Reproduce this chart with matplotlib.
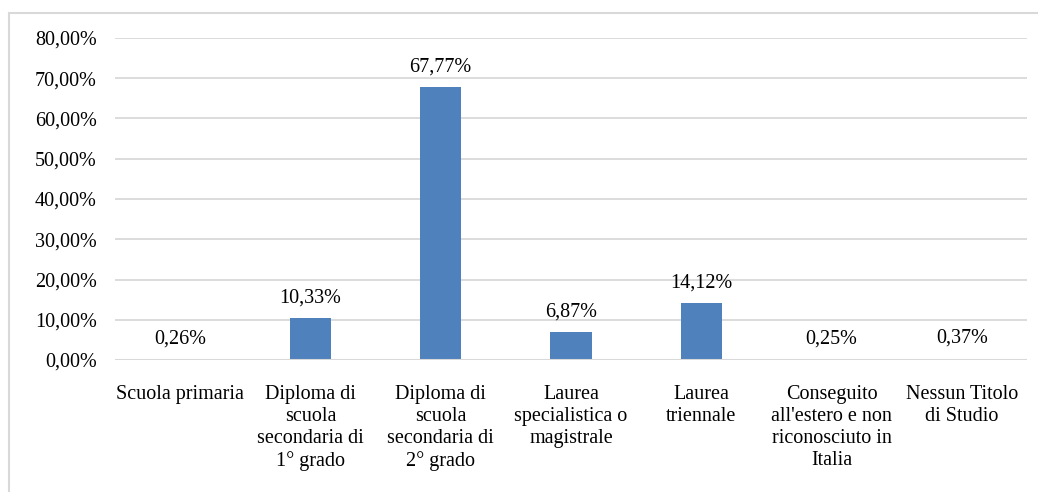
import matplotlib
matplotlib.use("Agg")
import matplotlib.pyplot as plt
from matplotlib.patches import Rectangle
from matplotlib.ticker import FuncFormatter

categories = ["Scuola primaria",
              "Diploma di\nscuola\nsecondaria di\n1° grado",
              "Diploma di\nscuola\nsecondaria di\n2° grado",
              "Laurea\nspecialistica o\nmagistrale",
              "Laurea\ntriennale",
              "Conseguito\nall'estero e non\nriconosciuto in\nItalia",
              "Nessun Titolo\ndi Studio"]
values = [0.26, 10.33, 67.77, 6.87, 14.12, 0.25, 0.37]
value_labels = ["0,26%", "10,33%", "67,77%", "6,87%", "14,12%", "0,25%", "0,37%"]

W, H = 1038, 492
FS = 14.5
plt.rcParams['font.family'] = ['Liberation Serif', 'DejaVu Serif']
fig = plt.figure(figsize=(W/100, H/100), dpi=100)
fig.patches.append(Rectangle((9/W, -0.1), 1.2, 1 - 13/H + 0.1, transform=fig.transFigure,
                             fill=False, edgecolor='#d9d9d9', linewidth=1.5))

ax = fig.add_axes([115/W, 1 - 360/H, (1027-115)/W, (360-38)/H])
x = list(range(len(categories)))
ax.bar(x, values, width=0.315, color='#4f81bd', zorder=3)
ax.axhline(0, color='#d9d9d9', linewidth=1.5, zorder=4)
ax.set_xlim(-0.5, len(categories) - 0.5)
ax.set_ylim(0, 80)
ax.set_yticks(range(0, 81, 10))
ax.yaxis.set_major_formatter(FuncFormatter(lambda v, p: f"{v:.2f}".replace('.', ',') + "%"))
ax.grid(axis='y', color='#d9d9d9', linewidth=1.3, zorder=0)
for s in ax.spines.values():
    s.set_visible(False)
ax.tick_params(axis='both', length=0, labelsize=FS, colors='black')
ax.tick_params(axis='y', pad=13)
ax.tick_params(axis='x', pad=18)
ax.set_xticks(x)
ax.set_xticklabels(categories, linespacing=1.22, va='top')

for xi, v, lab in zip(x, values, value_labels):
    ax.annotate(lab, (xi, v), xytext=(0, 14.5), textcoords='offset points',
                ha='center', va='center', fontsize=FS)

fig.savefig("out.png", dpi=100)
